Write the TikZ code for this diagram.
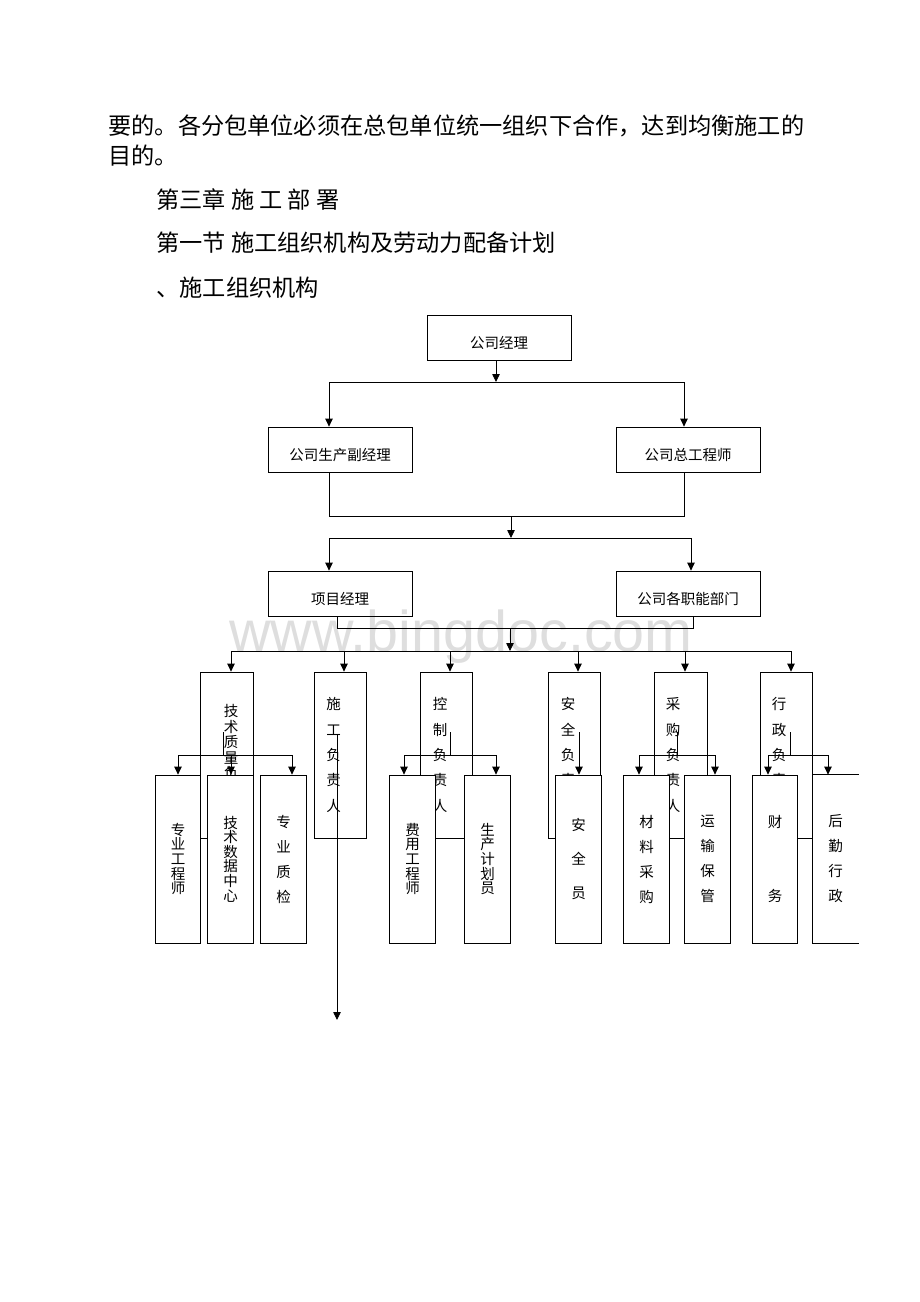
\documentclass[tikz,border=0pt]{standalone}
\usepackage{fontspec}
\setmainfont{Noto Sans CJK SC}
\newfontfamily\wmfont{Liberation Sans}
\usetikzlibrary{arrows.meta}

\begin{document}
\begin{tikzpicture}[x=1pt, y=-1pt, line width=0.8pt,
    box/.style={draw, minimum width=144pt, minimum height=45pt, inner sep=0pt,
        font=\fontsize{14.5}{17}\selectfont, text height=23pt, text depth=2pt},
    tallbox/.style={draw, fill=white, minimum width=52.5pt, minimum height=166pt, inner sep=0pt},
    subbox/.style={draw, fill=white, minimum width=45.5pt, minimum height=168pt, inner sep=0pt, align=center},
    vtext/.style={inner sep=0pt, align=center},
    para/.style={anchor=west, inner sep=0pt, font=\fontsize{23.2}{28}\selectfont},
    arr/.style={-{Triangle[width=7.5pt,length=8pt]}}]

    \useasboundingbox (0,0) rectangle (920,1302);

    % Watermark
    \node[anchor=base west, inner sep=0pt, text=black!13, font=\wmfont\fontsize{57.5}{60}\selectfont] (wm) at (229,651) {www.bingdoc.com};

    % Text above the chart
    \node[para] (p1) at (108,126) {要的。各分包单位必须在总包单位统一组织下合作，达到均衡施工的};
    \node[para] (p2) at (108,156) {目的。};
    \node[para] (p3) at (156,200) {第三章 施 工 部 署};
    \node[para] (p4) at (156,243) {第一节 施工组织机构及劳动力配备计划};
    \node[para] (p5) at (156,288) {、施工组织机构};

    % Upper boxes
    \node[box] (gm) at (499,338) {公司经理};
    \node[box] (pm) at (340,449.5) {公司生产副经理};
    \node[box] (ce) at (688,449.5) {公司总工程师};
    \node[box] (xm) at (340,593.5) {项目经理};
    \node[box] (fd) at (688,593.5) {公司各职能部门};

    \coordinate (a0) at (496,382);
    \coordinate (a1) at (329,382);
    \coordinate (a2) at (684,382);
    \draw[arr] (a0 |- gm.south) -- (a0);
    \draw (a1) -- (a2);
    \draw[arr] (a1) -- (a1 |- pm.north);
    \draw[arr] (a2) -- (a2 |- ce.north);

    \coordinate (b0) at (511,516);
    \coordinate (b1) at (329,516);
    \coordinate (b2) at (684,516);
    \draw (b1 |- pm.south) -- (b1) -- (b2) -- (b2 |- ce.south);
    \coordinate (c0) at (511,538);
    \coordinate (c1) at (329,538);
    \coordinate (c2) at (691,538);
    \draw[arr] (b0) -- (c0);
    \draw (c1) -- (c2);
    \draw[arr] (c1) -- (c1 |- xm.north);
    \draw[arr] (c2) -- (c2 |- fd.north);

    \coordinate (d0) at (510,628);
    \coordinate (d1) at (337,628);
    \coordinate (d2) at (693,628);
    \draw (d1 |- xm.south) -- (d1) -- (d2) -- (d2 |- fd.south);
    \coordinate (e0) at (510,651);
    \draw[arr] (d0) -- (e0);

    % Heads of the sections
    \foreach \name/\x/\dx/\dy/\ls/\txt in {
        t1/227/4/-2.5/15.5/{技\\术\\质\\量\\负\\责\\人},
        t2/340.5/-7/0/25.3/{施\\工\\负\\责\\人},
        t3/446.5/-6.5/0/25.3/{控\\制\\负\\责\\人},
        t4/574.5/-6.5/0/25.3/{安\\全\\负\\责\\人},
        t5/681/-8/0/25.3/{采\\购\\负\\责\\人},
        t6/786.5/-7.5/0/25.3/{行\\政\\负\\责\\人}}{
        \node[tallbox] (\name) at (\x,755) {};
        \node[vtext, font=\fontsize{14.5}{\ls}\selectfont] (\name-l) at ([xshift=\dx, yshift=\dy]\name.center) {\txt};
    }

    \coordinate (e1) at (231,651);
    \coordinate (e6) at (791,651);
    \draw (e1) -- (e6);
    \foreach \name/\x in {t1/231, t2/344, t3/450, t4/578, t5/685, t6/791}{
        \coordinate (e-\name) at (\x,651);
        \draw[arr] (e-\name) -- (e-\name |- \name.north);
    }

    % Staff boxes
    \foreach \name/\x/\ls/\txt in {
        c11/178/14.6/{专\\业\\工\\程\\师},
        c12/230.5/14.6/{技\\术\\数\\据\\中\\心},
        c13/283.5/25/{专\\业\\质\\检},
        c31/412.5/14.6/{费\\用\\工\\程\\师},
        c32/487.5/14.6/{生\\产\\计\\划\\员},
        c41/578.5/34/{安\\全\\员},
        c51/646.5/25/{材\\料\\采\\购},
        c52/707.5/25/{运\\输\\保\\管},
        c61/775/25/{财\\[49pt]务}}{
        \node[subbox, font=\fontsize{14.5}{\ls}\selectfont] (\name) at (\x,859) {\txt};
    }
    \node[subbox, draw=none, font=\fontsize{14.5}{25}\selectfont] (c62) at (835.5,859) {后\\勤\\行\\政};
    \draw (c62.north east) -- (c62.north west) -- (c62.south west) -- (c62.south east);

    % Links down to the staff
    \foreach \p/\s/\l/\r in {t1/223/178/292, t3/450/404/496, t5/677/639/715, t6/790/768/828}{
        \coordinate (\p-top) at (\s,732);
        \coordinate (\p-mid) at (\s,755);
        \coordinate (\p-left) at (\l,755);
        \coordinate (\p-right) at (\r,755);
        \draw (\p-top) -- (\p-mid);
        \draw (\p-left) -- (\p-right);
    }
    \foreach \c/\x in {c11/178, c12/231, c13/292, c31/404, c32/496, c51/639, c52/715, c61/768, c62/828}{
        \coordinate (\c-in) at (\x,755);
        \draw[arr] (\c-in) -- (\c-in |- \c.north);
    }
    \coordinate (t4-top) at (579,732);
    \draw[arr] (t4-top) -- (t4-top |- c41.north);

    \coordinate (t2-top) at (337,735);
    \coordinate (t2-end) at (337,1020);
    \draw[arr] (t2-top) -- (t2-end);

\end{tikzpicture}
\end{document}
